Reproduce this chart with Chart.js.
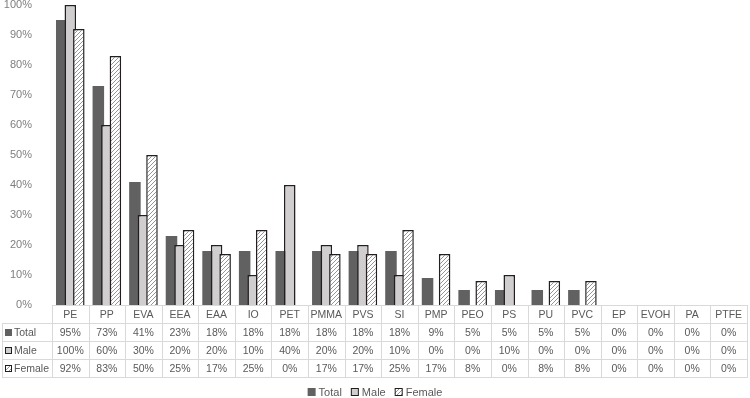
<!DOCTYPE html>
<html>
<head>
<meta charset="utf-8">
<script src="https://cdn.jsdelivr.net/npm/chart.js@4.4.1/dist/chart.umd.min.js"></script>
<style>
html, body { margin: 0; padding: 0; background: #fff; }
#wrap { width: 750px; height: 398px; }
</style>
</head>
<body>
<div id="wrap"><canvas id="chart-bar-polymers"></canvas></div>
<script>
const categories = ['PE', 'PP', 'EVA', 'EEA', 'EAA', 'IO', 'PET', 'PMMA', 'PVS', 'SI', 'PMP', 'PEO', 'PS', 'PU', 'PVC', 'EP', 'EVOH', 'PA', 'PTFE'];
const totalValues = [95, 73, 41, 23, 18, 18, 18, 18, 18, 18, 9, 5, 5, 5, 5, 0, 0, 0, 0];
const maleValues = [100, 60, 30, 20, 20, 10, 40, 20, 20, 10, 0, 0, 10, 0, 0, 0, 0, 0, 0];
const femaleValues = [92, 83, 50, 25, 17, 25, 0, 17, 17, 25, 17, 8, 0, 8, 8, 0, 0, 0, 0];
const seriesNames = ['Total', 'Male', 'Female'];

const FONT = 'Liberation Sans';
const TEXT = '#595959';
const LINE = '#d9d9d9';

let canvas = document.getElementById('chart-bar-polymers');
let ctx = canvas.getContext('2d');

// diagonal hatch for the Female series
function makeHatch() {
    let c = document.createElement('canvas');
    c.width = 4; c.height = 4;
    let g = c.getContext('2d');
    g.fillStyle = '#fff';
    g.fillRect(0, 0, 4, 4);
    g.strokeStyle = '#8a8a8a';
    g.lineWidth = 0.9;
    g.beginPath();
    g.moveTo(0, 4); g.lineTo(4, 0);
    g.moveTo(-1, 1); g.lineTo(1, -1);
    g.moveTo(3, 5); g.lineTo(5, 3);
    g.stroke();
    return ctx.createPattern(c, 'repeat');
}
const hatch = makeHatch();

const styles = [
    { fill: '#616161', border: '#616161', width: 0 },
    { fill: '#d0cece', border: '#231f20', width: 1.5 },
    { fill: hatch, border: '#231f20', width: 1.5 },
];
const seriesValues = [totalValues, maleValues, femaleValues];

function drawKey(c, i, x, y, s) {
    let st = styles[i];
    c.fillStyle = st.fill;
    c.fillRect(x, y, s, s);
    if (st.width) {
        c.strokeStyle = st.border;
        c.lineWidth = 1;
        c.strokeRect(x + 0.5, y + 0.5, s - 1, s - 1);
    }
}

// Excel style overlap: later series are painted on top of earlier ones
const drawOrderPlugin = {
    id: 'drawOrder',
    beforeDatasetsDraw(chart) {
        for (let i = 0; i < chart.data.datasets.length; i++) {
            chart.getDatasetMeta(i).controller.draw();
        }
        return false;
    }
};

const tablePlugin = {
    id: 'dataTable',
    afterDraw(chart) {
        const c = chart.ctx;
        const x = chart.scales.x;
        const top = chart.chartArea.bottom;
        const left = chart.chartArea.left;
        const right = chart.chartArea.right;
        const step = (right - left) / categories.length;
        const rowH = 18;
        c.save();
        c.strokeStyle = LINE;
        c.lineWidth = 1;
        c.beginPath();
        c.moveTo(left, top + 0.5); c.lineTo(right, top + 0.5);
        for (let r = 1; r <= 4; r++) {
            let yy = Math.round(top + r * rowH) + 0.5;
            c.moveTo(2, yy); c.lineTo(right, yy);
        }
        c.moveTo(2.5, top + rowH); c.lineTo(2.5, top + 4 * rowH + 1);
        for (let i = 0; i <= categories.length; i++) {
            let xx = Math.round(left + i * step) + 0.5;
            c.moveTo(xx, top); c.lineTo(xx, top + 4 * rowH + 1);
        }
        c.stroke();

        c.fillStyle = TEXT;
        c.font = '10.5px "' + FONT + '"';
        c.textAlign = 'center';
        c.textBaseline = 'middle';
        categories.forEach((cat, i) => {
            let cx = x.getPixelForValue(i);
            c.fillStyle = TEXT;
            c.fillText(cat, cx, top + rowH / 2 + 1);
            seriesValues.forEach((vals, s) => {
                c.fillText(vals[i] + '%', cx, top + (s + 1.5) * rowH + 1);
            });
        });
        seriesNames.forEach((name, s) => {
            let cy = top + (s + 1.5) * rowH;
            drawKey(c, s, 5, Math.round(cy - 3), 7);
            c.fillStyle = TEXT;
            c.textAlign = 'left';
            c.fillText(name, 14, cy + 1);
        });

        // legend under the table
        c.font = '11px "' + FONT + '"';
        let widths = seriesNames.map(n => c.measureText(n).width + 11);
        let gap = 9;
        let total = widths.reduce((a, b) => a + b, 0) + gap * (widths.length - 1);
        let lx = chart.width / 2 - total / 2;
        let ly = 392;
        seriesNames.forEach((name, s) => {
            drawKey(c, s, lx, ly - 4, 8);
            c.fillStyle = TEXT;
            c.textAlign = 'left';
            c.fillText(name, lx + 11, ly + 1);
            lx += widths[s] + gap;
        });
        c.restore();
    }
};

new Chart(ctx, {
    type: 'bar',
    data: {
        labels: categories,
        datasets: seriesNames.map((name, i) => ({
            label: name,
            data: seriesValues[i],
            backgroundColor: styles[i].fill,
            borderColor: styles[i].border,
            borderWidth: styles[i].width,
            borderSkipped: 'bottom',
            categoryPercentage: 0.7,
            barPercentage: 1.35,
        }))
    },
    options: {
        responsive: true,
        maintainAspectRatio: false,
        animation: false,
        layout: { padding: { top: 5, right: 3, bottom: 93, left: 0 } },
        plugins: {
            legend: { display: false },
            tooltip: { enabled: false }
        },
        scales: {
            x: { display: false },
            y: {
                min: 0,
                max: 100,
                ticks: {
                    stepSize: 10,
                    padding: 12,
                    color: '#7f7f7f',
                    font: { family: FONT, size: 11 },
                    callback: v => v + '%'
                },
                grid: { display: false },
                border: { display: false },
                afterFit: s => {
                    s.width = 52;
                    s.paddingTop = 0;
                    s.paddingBottom = 0;
                }
            }
        }
    },
    plugins: [drawOrderPlugin, tablePlugin]
});
</script>
</body>
</html>
